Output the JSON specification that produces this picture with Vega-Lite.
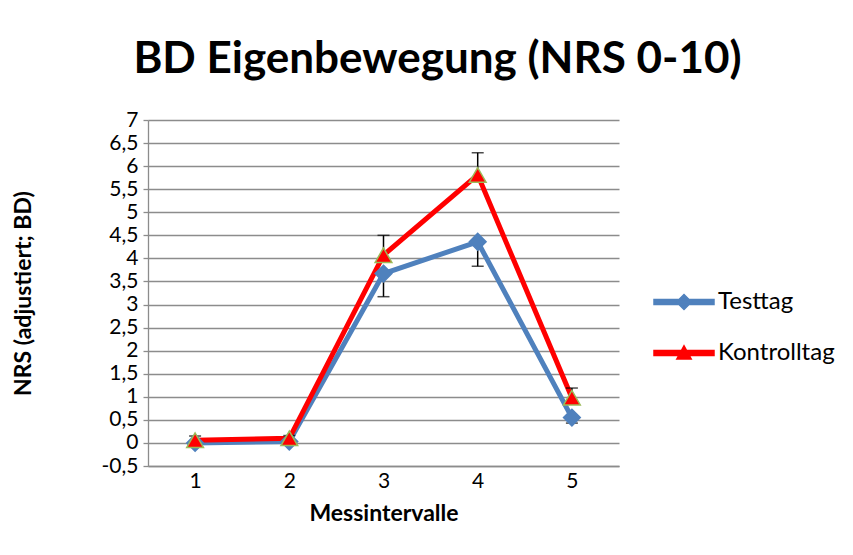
{
  "$schema": "https://vega.github.io/schema/vega-lite/v6.json",
  "width": 471,
  "height": 346,
  "autosize": {"type": "none"},
  "padding": {"left": 148, "top": 120, "right": 234, "bottom": 89},
  "background": "white",
  "title": {
    "text": "BD Eigenbewegung (NRS 0-10)",
    "fontSize": 44,
    "fontWeight": "bold",
    "font": "Lato",
    "color": "black",
    "anchor": "middle",
    "dx": 54,
    "offset": 27
  },
  "datasets": {
    "pts": [
      {"x": 1, "series": "Testtag", "v": 0.0},
      {"x": 2, "series": "Testtag", "v": 0.03},
      {"x": 3, "series": "Testtag", "v": 3.67},
      {"x": 4, "series": "Testtag", "v": 4.36},
      {"x": 5, "series": "Testtag", "v": 0.55},
      {"x": 1, "series": "Kontrolltag", "v": 0.06},
      {"x": 2, "series": "Kontrolltag", "v": 0.1},
      {"x": 3, "series": "Kontrolltag", "v": 4.07},
      {"x": 4, "series": "Kontrolltag", "v": 5.81},
      {"x": 5, "series": "Kontrolltag", "v": 0.98}
    ],
    "err": [
      {"x": 1, "series": "Testtag", "v": 0.0, "e": -0.08},
      {"x": 2, "series": "Testtag", "v": 0.03, "e": -0.05},
      {"x": 3, "series": "Testtag", "v": 3.67, "e": 3.17},
      {"x": 4, "series": "Testtag", "v": 4.36, "e": 3.83},
      {"x": 5, "series": "Testtag", "v": 0.55, "e": 0.43},
      {"x": 1, "series": "Kontrolltag", "v": 0.06, "e": 0.15},
      {"x": 2, "series": "Kontrolltag", "v": 0.1, "e": 0.16},
      {"x": 3, "series": "Kontrolltag", "v": 4.07, "e": 4.5},
      {"x": 4, "series": "Kontrolltag", "v": 5.81, "e": 6.29},
      {"x": 5, "series": "Kontrolltag", "v": 0.98, "e": 1.19}
    ]
  },
  "encoding": {
    "x": {
      "field": "x", "type": "quantitative",
      "scale": {"domain": [0.5, 5.5], "nice": false, "zero": false},
      "axis": {
        "values": [1, 2, 3, 4, 5],
        "title": "Messintervalle",
        "grid": false,
        "ticks": false,
        "labelPadding": 4,
        "titlePadding": 11
      }
    },
    "y": {
      "field": "v", "type": "quantitative",
      "scale": {"domain": [-0.5, 7], "nice": false, "zero": false},
      "axis": {
        "values": [-0.5, 0, 0.5, 1, 1.5, 2, 2.5, 3, 3.5, 4, 4.5, 5, 5.5, 6, 6.5, 7],
        "labelExpr": "replace(datum.value + '', '.', ',')",
        "title": "NRS (adjustiert; BD)",
        "grid": true,
        "tickSize": 5,
        "labelPadding": 5,
        "titleX": -113
      }
    }
  },
  "layer": [
    {
      "data": {"name": "pts"},
      "mark": {"type": "line", "strokeWidth": 5},
      "encoding": {
        "color": {
          "field": "series", "type": "nominal",
          "scale": {"domain": ["Testtag", "Kontrolltag"], "range": ["#4f81bd", "#ff0000"]},
          "legend": {
            "orient": "none",
            "legendX": 505,
            "legendY": 151,
            "title": null,
            "labelFontSize": 24,
            "labelColor": "black",
            "labelOffset": 3,
            "rowPadding": 8,
            "symbolSize": 3600,
            "encode": {
              "symbols": {
                "update": {
                  "shape": {"signal": "datum.value === 'Testtag' ? 'M-1,-0.085L1,-0.085L1,0.085L-1,0.085Z M-0.25,0L0,-0.25L0.25,0L0,0.25Z' : 'M-1,-0.085L1,-0.085L1,0.085L-1,0.085Z M-0.24,0.2L0,-0.24L0.24,0.2Z'"},
                  "fill": {"signal": "datum.value === 'Testtag' ? '#4f81bd' : '#ff0000'"},
                  "stroke": {"value": "transparent"},
                  "size": {"value": 3600},
                  "opacity": {"value": 1}
                }
              }
            }
          }
        }
      }
    },
    {
      "data": {"name": "err"},
      "mark": {"type": "rule", "color": "black", "strokeWidth": 1.5},
      "encoding": {
        "y2": {"field": "e"}
      }
    },
    {
      "data": {"name": "err"},
      "mark": {"type": "tick", "color": "black", "orient": "horizontal", "size": 12, "thickness": 1.5},
      "encoding": {
        "y": {"field": "e", "type": "quantitative"}
      }
    },
    {
      "data": {"name": "pts"},
      "mark": {"type": "point", "filled": true, "size": 280, "strokeWidth": 1.5, "opacity": 1},
      "encoding": {
        "shape": {"condition": {"test": "datum.series === 'Testtag'", "value": "diamond"}, "value": "triangle-up"},
        "fill": {"condition": {"test": "datum.series === 'Testtag'", "value": "#4f81bd"}, "value": "#ff0000"},
        "stroke": {"condition": {"test": "datum.series === 'Testtag'", "value": "#4f81bd"}, "value": "#9bbb59"}
      }
    }
  ],
  "config": {
    "font": "Lato",
    "view": {"stroke": null},
    "axis": {
      "labelFont": "Lato",
      "labelFontSize": 21,
      "labelColor": "black",
      "titleFont": "Lato",
      "titleFontSize": 23,
      "titleFontWeight": "bold",
      "titleColor": "black",
      "gridColor": "#8c8c8c",
      "gridWidth": 1.3,
      "gridOpacity": 1,
      "domainColor": "#8c8c8c",
      "domainWidth": 1.3,
      "tickColor": "#8c8c8c",
      "tickWidth": 1.3
    },
    "legend": {"labelFont": "Lato"}
  }
}
